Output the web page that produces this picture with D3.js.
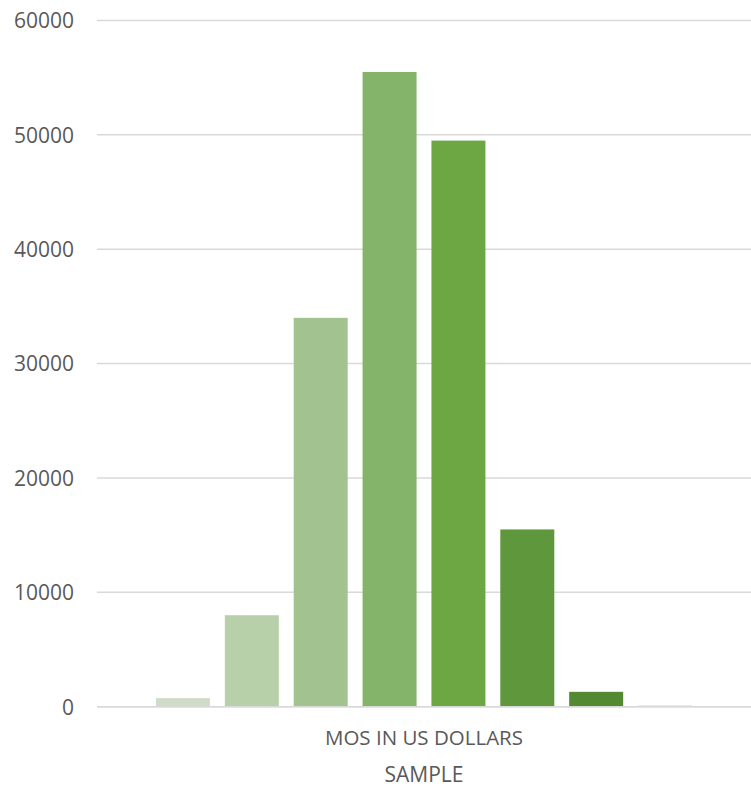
<!DOCTYPE html>
<html>
<head>
<meta charset="utf-8">
<script src="https://cdn.jsdelivr.net/npm/d3@7"></script>
<style>
  html, body { margin: 0; padding: 0; background: #fff; }
  svg { display: block; }
  text { font-family: "Open Sans", sans-serif; fill: #595959; }
</style>
</head>
<body>
<svg id="chart" width="751" height="787"></svg>
<script>
// Single category holding eight sample series
const categories = ["MOS IN US DOLLARS"];
const seriesNames = ["S1", "S2", "S3", "S4", "S5", "S6", "S7", "S8"];
const seriesValues = [750, 8000, 34000, 55500, 49500, 15500, 1300, 100];
const seriesColors = ["#d0dcc8", "#b8d0aa", "#a2c390", "#84b469", "#6ca744", "#5f983c", "#548934", "#c8d4be"];
const yTicks = [0, 10000, 20000, 30000, 40000, 50000, 60000];
const axisTitle = "SAMPLE";

const svg = d3.select("#chart");
const margin = { top: 20.5, right: 0, bottom: 80, left: 97 };
const width = 751, height = 787;
const plotBottom = 706.7;

const y = d3.scaleLinear().domain([0, 60000]).range([plotBottom, margin.top]);

const x0 = d3.scaleBand().domain(categories).range([margin.left, width - margin.right]).padding(0);
const x1 = d3.scaleBand().domain(seriesNames).range([0, x0.bandwidth()])
  .paddingInner(0.216).paddingOuter(0.856);

// Horizontal gridlines
svg.append("g")
  .selectAll("line")
  .data(yTicks)
  .join("line")
  .attr("x1", margin.left)
  .attr("x2", width - margin.right)
  .attr("y1", d => y(d))
  .attr("y2", d => y(d))
  .attr("stroke", "#d9d9d9")
  .attr("stroke-width", 1.5);

// Y axis labels
const yAxis = d3.axisLeft(y).tickValues(yTicks).tickSize(0).tickPadding(0).tickFormat(d3.format("d"));
const yg = svg.append("g").attr("transform", `translate(74,0)`).call(yAxis);
yg.select(".domain").remove();
yg.selectAll("text")
  .style("font-family", "'Open Sans', sans-serif")
  .style("font-size", "21px")
  .attr("fill", "#595959")
  .attr("dy", "0.35em");

// Bars
const group = svg.append("g")
  .selectAll("g")
  .data(categories)
  .join("g")
  .attr("transform", d => `translate(${x0(d)},0)`);

group.selectAll("rect")
  .data(seriesNames.map((s, i) => ({ s, v: seriesValues[i], c: seriesColors[i] })))
  .join("rect")
  .attr("x", d => x1(d.s))
  .attr("width", x1.bandwidth())
  .attr("y", d => y(d.v))
  .attr("height", d => y(0) - y(d.v))
  .attr("fill", d => d.c);

// Baseline drawn over bars
svg.append("line")
  .attr("x1", margin.left)
  .attr("x2", width - margin.right)
  .attr("y1", y(0))
  .attr("y2", y(0))
  .attr("stroke", "#d9d9d9")
  .attr("stroke-width", 1.5);

// Category label
const xAxis = d3.axisBottom(x0).tickSize(0).tickPadding(0);
const xg = svg.append("g").attr("transform", `translate(0,${y(0)})`).call(xAxis);
xg.select(".domain").remove();
xg.selectAll("text")
  .style("font-family", "'Open Sans', sans-serif")
  .style("font-size", "20.5px")
  .attr("fill", "#595959")
  .attr("dy", null)
  .attr("y", 38.5);

// Axis title
svg.append("text")
  .attr("x", 424)
  .attr("y", 782)
  .attr("text-anchor", "middle")
  .style("font-size", "21px")
  .text(axisTitle);
</script>
</body>
</html>
